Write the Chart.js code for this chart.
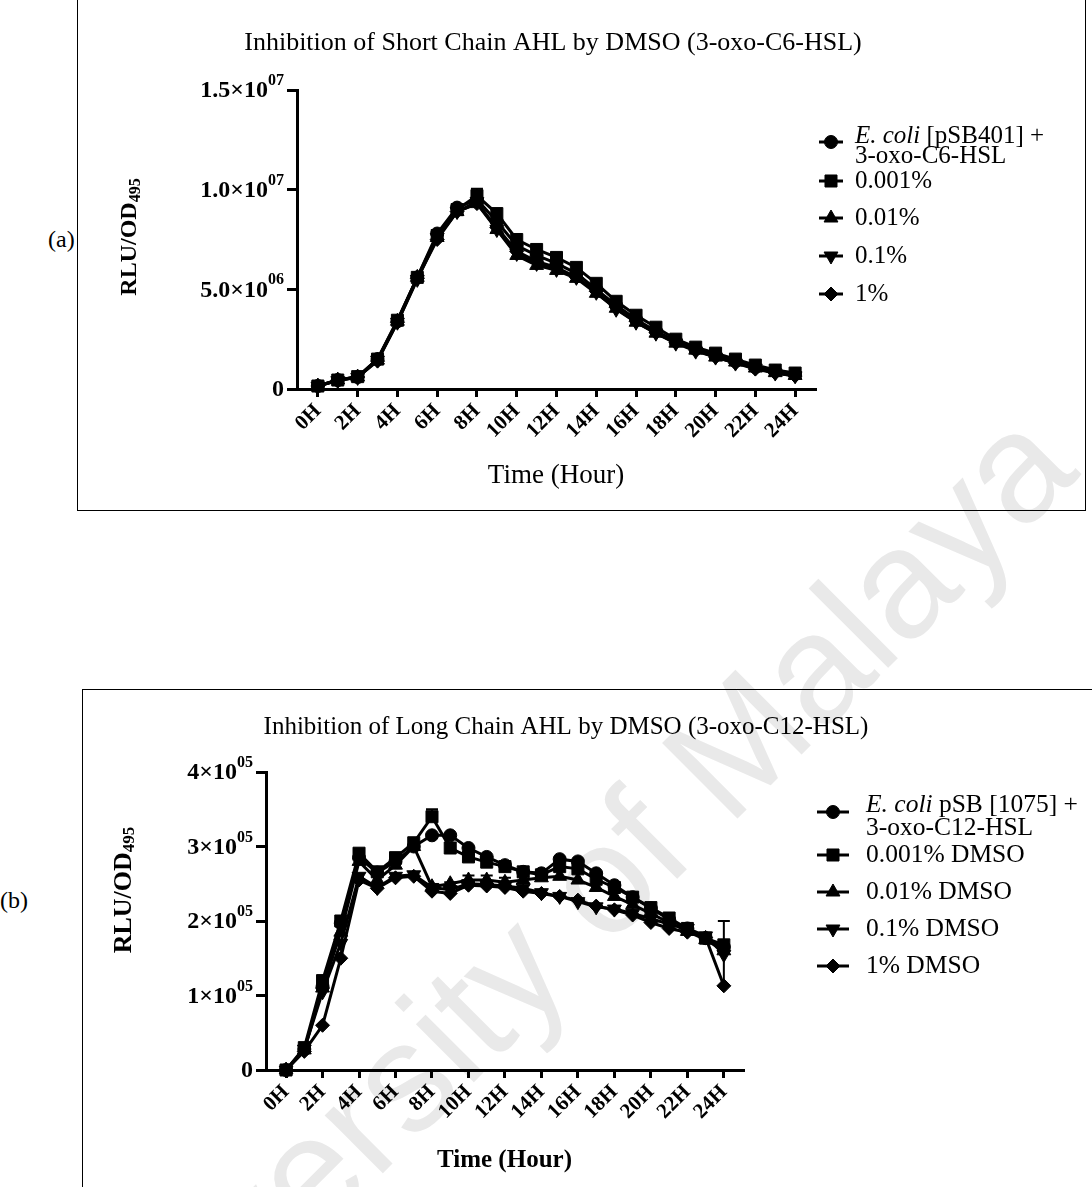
<!DOCTYPE html>
<html>
<head>
<meta charset="utf-8">
<script src="https://cdn.jsdelivr.net/npm/chart.js@4.4.1/dist/chart.umd.min.js"></script>
<style>
  body { margin: 0; background: #fff; width: 1092px; height: 1187px; overflow: hidden; position: relative; font-family: "Liberation Serif", "Times New Roman", serif; }
  #wm { position: absolute; left: 95px; top: 1330px; font: 155px "Liberation Sans", Arial, sans-serif; line-height: 155px; color: #e9e9e9; white-space: nowrap; transform-origin: 0 131px; transform: rotate(-45deg); z-index: 0; }
  .frame { position: absolute; border: 1.5px solid #000; z-index: 1; }
  #frameA { left: 77px; top: -10px; width: 1007px; height: 519px; }
  #frameB { left: 82px; top: 689px; width: 1100px; height: 600px; }
  .tag { position: absolute; font-size: 24px; z-index: 2; }
  canvas { position: absolute; left: 0; z-index: 2; }
</style>
</head>
<body>
<div id="wm">University of Malaya</div>
<div class="frame" id="frameA"></div>
<div class="frame" id="frameB"></div>
<div class="tag" style="left:48px;top:226px;">(a)</div>
<div class="tag" style="left:0px;top:887px;">(b)</div>
<canvas id="chartA" width="1092" height="510" style="top:0px"></canvas>
<canvas id="chartB" width="1092" height="497" style="top:690px"></canvas>

<script>
// sampling times (hours)
const hours = [0, 1, 2, 3, 4, 5, 6, 7, 8, 9, 10, 11, 12, 13, 14, 15, 16, 17, 18, 19, 20, 21, 22, 23, 24];
const xTickHours = [0, 2, 4, 6, 8, 10, 12, 14, 16, 18, 20, 22, 24];
const xTickLabels = ['0H', '2H', '4H', '6H', '8H', '10H', '12H', '14H', '16H', '18H', '20H', '22H', '24H'];

// (a) 3-oxo-C6-HSL, RLU/OD495 in units of 10^6
const ctrlA  = [0.15, 0.45, 0.6, 1.5, 3.4, 5.6, 7.8, 9.1, 9.5, 8.4, 7.2, 6.7, 6.3, 5.8, 5.0, 4.2, 3.5, 2.9, 2.4, 2.0, 1.7, 1.4, 1.1, 0.9, 0.75];
const d0001A = [0.15, 0.45, 0.62, 1.5, 3.45, 5.6, 7.7, 9.0, 9.7, 8.8, 7.5, 7.0, 6.6, 6.1, 5.3, 4.4, 3.7, 3.1, 2.5, 2.1, 1.8, 1.5, 1.2, 0.95, 0.8];
const d001A  = [0.15, 0.45, 0.6, 1.45, 3.4, 5.6, 7.6, 8.9, 9.3, 8.0, 6.7, 6.2, 5.95, 5.55, 4.8, 4.05, 3.35, 2.8, 2.3, 1.95, 1.6, 1.35, 1.05, 0.82, 0.68];
const d01A   = [0.15, 0.42, 0.58, 1.45, 3.35, 5.5, 7.6, 8.9, 9.4, 8.0, 6.8, 6.3, 6.0, 5.6, 4.85, 4.0, 3.35, 2.8, 2.3, 1.9, 1.6, 1.3, 1.05, 0.8, 0.66];
const d1A    = [0.15, 0.43, 0.6, 1.4, 3.35, 5.55, 7.5, 8.9, 9.3, 8.1, 6.9, 6.4, 6.1, 5.6, 4.9, 4.1, 3.4, 2.85, 2.35, 1.95, 1.6, 1.3, 1.0, 0.8, 0.65];
const errD0001A = [0, 0, 0, 0, 0, 0, 0, 0, 0.35, 0, 0, 0, 0, 0, 0, 0, 0, 0, 0, 0, 0, 0, 0, 0, 0];
const yTicksA = [0, 5, 10, 15];
const yTickLabelsA = ['0', '5.0×10^06', '1.0×10^07', '1.5×10^07'];
const legendA = ['E. coli [pSB401] +\n3-oxo-C6-HSL', '0.001%', '0.01%', '0.1%', '1%'];

// (b) 3-oxo-C12-HSL, RLU/OD495 in units of 10^5
const ctrlB  = [0, 0.28, 1.12, 1.97, 2.85, 2.65, 2.8, 3.0, 3.15, 3.15, 2.98, 2.86, 2.75, 2.66, 2.64, 2.83, 2.8, 2.64, 2.48, 2.32, 2.17, 2.02, 1.9, 1.77, 1.65];
const d0001B = [0, 0.3, 1.2, 2.0, 2.91, 2.66, 2.85, 3.05, 3.4, 2.98, 2.86, 2.79, 2.73, 2.66, 2.62, 2.73, 2.7, 2.56, 2.45, 2.32, 2.18, 2.04, 1.9, 1.77, 1.68];
const d001B  = [0, 0.27, 1.1, 1.85, 2.8, 2.55, 2.75, 3.0, 2.46, 2.5, 2.55, 2.55, 2.52, 2.55, 2.58, 2.6, 2.55, 2.45, 2.33, 2.22, 2.1, 1.98, 1.86, 1.75, 1.6];
const d01B   = [0, 0.28, 1.05, 1.7, 2.6, 2.45, 2.6, 2.62, 2.45, 2.42, 2.5, 2.49, 2.47, 2.44, 2.38, 2.33, 2.26, 2.19, 2.16, 2.1, 2.03, 1.96, 1.9, 1.8, 1.55];
const d1B    = [0, 0.25, 0.6, 1.5, 2.55, 2.44, 2.58, 2.6, 2.4, 2.37, 2.48, 2.47, 2.45, 2.4, 2.37, 2.33, 2.28, 2.2, 2.15, 2.08, 1.98, 1.9, 1.85, 1.78, 1.13];
const errD0001B = [0, 0, 0, 0, 0, 0, 0, 0, 0.1, 0, 0, 0, 0, 0, 0, 0, 0, 0, 0, 0, 0, 0, 0, 0, 0.32];
const errD001B  = [0, 0, 0, 0, 0, 0, 0, 0, 0, 0, 0.06, 0.06, 0.06, 0.05, 0, 0, 0, 0, 0, 0, 0, 0, 0, 0, 0];
const errD01B   = [0, 0, 0, 0, 0, 0, 0, 0, 0, 0.1, 0.05, 0, 0, 0, 0, 0, 0, 0, 0, 0, 0, 0, 0, 0, 0];
const errD1B    = [0, 0, 0, 0, 0, 0, 0, 0, 0, 0, 0, 0, 0, 0, 0, 0, 0, 0, 0, 0, 0, 0, 0, 0, 0.55];
const yTicksB = [0, 1, 2, 3, 4];
const yTickLabelsB = ['0', '1×10^05', '2×10^05', '3×10^05', '4×10^05'];
const legendB = ['E. coli pSB [1075] +\n3-oxo-C12-HSL', '0.001% DMSO', '0.01% DMSO', '0.1% DMSO', '1% DMSO'];

// one marker per treatment, same order in both panels
const MARKERS = [
  { style: 'circle',   radius: 6.5, rotation: 0 },
  { style: 'rect',     radius: 8.5, rotation: 0 },
  { style: 'triangle', radius: 8,   rotation: 0 },
  { style: 'triangle', radius: 8,   rotation: 180 },
  { style: 'rectRot',  radius: 7,   rotation: 0 }
];

const SERIF = '"Liberation Serif", "Times New Roman", serif';

function drawMarker(ctx, m, x, y) {
  ctx.fillStyle = '#000';
  ctx.strokeStyle = '#000';
  ctx.lineWidth = 1;
  Chart.helpers.drawPoint(ctx, { pointStyle: m.style, radius: m.radius, rotation: m.rotation, borderWidth: 1 }, x, y);
}

// titles, tick labels with exponents, legend and error bars
const decor = {
  id: 'decor',
  afterDatasetsDraw(chart, args, o) {
    const ctx = chart.ctx;
    const xs = chart.scales.x, ys = chart.scales.y;
    ctx.save();
    ctx.strokeStyle = '#000';
    ctx.lineWidth = 2;
    chart.data.datasets.forEach(ds => {
      if (!ds.errors) return;
      ds.data.forEach((p, i) => {
        const e = ds.errors[i];
        if (!e) return;
        const px = xs.getPixelForValue(p.x);
        const y0 = ys.getPixelForValue(p.y);
        const y1 = ys.getPixelForValue(p.y + e);
        ctx.beginPath();
        ctx.moveTo(px, y0); ctx.lineTo(px, y1);
        ctx.moveTo(px - 6, y1); ctx.lineTo(px + 6, y1);
        ctx.stroke();
      });
    });
    ctx.restore();
  },
  afterDraw(chart, args, o) {
    const ctx = chart.ctx;
    const ys = chart.scales.y;
    ctx.save();
    ctx.fillStyle = '#000';

    // chart title
    ctx.font = `${o.titleSize}px ${SERIF}`;
    ctx.textAlign = 'center';
    ctx.textBaseline = 'middle';
    ctx.fillText(o.title, o.titleX, o.titleY);

    // y tick labels: mantissa ×10 with superscript exponent
    ctx.textAlign = 'left';
    ys.ticks.forEach((t, i) => {
      const py = ys.getPixelForValue(t.value);
      const [base, sup] = o.yLabels[i].split('^');
      ctx.font = `bold ${o.yTickSize}px ${SERIF}`;
      const wb = ctx.measureText(base).width;
      let ws = 0;
      if (sup) {
        ctx.font = `bold ${o.supSize}px ${SERIF}`;
        ws = ctx.measureText(sup).width;
      }
      const x0 = chart.chartArea.left - o.yLabelGap - wb - ws;
      ctx.font = `bold ${o.yTickSize}px ${SERIF}`;
      ctx.fillText(base, x0, py + 1);
      if (sup) {
        ctx.font = `bold ${o.supSize}px ${SERIF}`;
        ctx.fillText(sup, x0 + wb, py - o.supRise);
      }
    });

    // y axis title with subscript
    ctx.save();
    ctx.translate(o.yTitleX, o.yTitleY);
    ctx.rotate(-Math.PI / 2);
    ctx.font = `bold ${o.yTitleSize}px ${SERIF}`;
    const wMain = ctx.measureText('RLU/OD').width;
    ctx.font = `bold ${o.subSize}px ${SERIF}`;
    const wSub = ctx.measureText('495').width;
    const sx = -(wMain + wSub) / 2;
    ctx.font = `bold ${o.yTitleSize}px ${SERIF}`;
    ctx.fillText('RLU/OD', sx, 0);
    ctx.font = `bold ${o.subSize}px ${SERIF}`;
    ctx.fillText('495', sx + wMain, o.subDrop);
    ctx.restore();

    // legend, one row per dataset
    const lg = o.legend;
    o.legendLabels.forEach((label, i) => {
      const lines = label.split('\n');
      const y = lg.rows[i];
      const my = y + (lines.length > 1 ? lg.multiShift : 0);
      ctx.strokeStyle = '#000';
      ctx.lineWidth = 3;
      ctx.beginPath();
      ctx.moveTo(lg.markX - lg.half, my);
      ctx.lineTo(lg.markX + lg.half, my);
      ctx.stroke();
      drawMarker(ctx, MARKERS[i], lg.markX, my);
      ctx.fillStyle = '#000';
      ctx.textBaseline = 'middle';
      ctx.textAlign = 'left';
      lines.forEach((line, k) => {
        const ly = y + k * lg.lineGap;
        let tx = lg.textX;
        if (line.startsWith('E. coli')) {
          ctx.font = `italic ${lg.size}px ${SERIF}`;
          ctx.fillText('E. coli', tx, ly);
          tx += ctx.measureText('E. coli').width;
          line = line.slice('E. coli'.length);
        }
        ctx.font = `${lg.size}px ${SERIF}`;
        ctx.fillText(line, tx, ly);
      });
    });
    ctx.restore();
  }
};

function makeChart(id, cfg) {
  const datasets = cfg.series.map((vals, i) => ({
    label: cfg.legendLabels[i],
    data: hours.map((h, k) => ({ x: h, y: vals[k] })),
    errors: cfg.errors[i],
    borderColor: '#000',
    borderWidth: 3,
    backgroundColor: '#000',
    pointStyle: MARKERS[i].style,
    pointRadius: MARKERS[i].radius,
    pointRotation: MARKERS[i].rotation,
    pointBackgroundColor: '#000',
    pointBorderColor: '#000',
    pointBorderWidth: 1,
    tension: 0,
    clip: false
  }));
  return new Chart(document.getElementById(id), {
    type: 'line',
    data: { datasets },
    options: {
      responsive: false,
      animation: false,
      events: [],
      layout: { padding: { top: cfg.top, right: cfg.padRight, left: 0, bottom: 0 } },
      plugins: {
        legend: { display: false },
        tooltip: { enabled: false },
        decor: cfg.decor
      },
      scales: {
        x: {
          type: 'linear',
          min: cfg.xMin,
          max: cfg.xMax,
          afterBuildTicks: s => { s.ticks = xTickHours.map(v => ({ value: v })); },
          afterFit: s => { s.height = cfg.xHeight; },
          grid: { display: true, drawOnChartArea: false, color: '#000', lineWidth: 3, tickLength: 8 },
          border: { color: '#000', width: 3 },
          ticks: {
            color: '#000',
            autoSkip: false,
            minRotation: 45,
            maxRotation: 45,
            padding: 2,
            font: { family: SERIF, size: cfg.xTickSize, weight: 'bold' },
            callback: (v, i) => xTickLabels[i]
          },
          title: {
            display: true,
            text: 'Time (Hour)',
            color: '#000',
            font: { family: SERIF, size: cfg.xTitleSize, weight: cfg.xTitleWeight },
            padding: { top: 0, bottom: cfg.xTitlePad }
          }
        },
        y: {
          min: cfg.yTicks[0],
          max: cfg.yTicks[cfg.yTicks.length - 1],
          afterBuildTicks: s => { s.ticks = cfg.yTicks.map(v => ({ value: v })); },
          afterFit: s => { s.width = cfg.yWidth; },
          grid: { display: true, drawOnChartArea: false, color: '#000', lineWidth: 3, tickLength: 10 },
          border: { color: '#000', width: 3 },
          ticks: { display: false }
        }
      }
    },
    plugins: [decor]
  });
}

makeChart('chartA', {
  series: [ctrlA, d0001A, d001A, d01A, d1A],
  errors: [null, errD0001A, null, null, null],
  legendLabels: legendA,
  yTicks: yTicksA,
  xMin: -1.05, xMax: 25,
  top: 90, padRight: 277, xHeight: 121, yWidth: 297,
  xTickSize: 21, xTitleSize: 27, xTitleWeight: 'normal', xTitlePad: 18,
  decor: {
    title: 'Inhibition of Short Chain AHL by DMSO (3-oxo-C6-HSL)',
    titleX: 553, titleY: 43, titleSize: 26,
    yLabels: yTickLabelsA, yTickSize: 24, supSize: 16, supRise: 9, yLabelGap: 13,
    yTitleX: 130, yTitleY: 237, yTitleSize: 24, subSize: 16, subDrop: 6,
    legendLabels: legendA,
    legend: { rows: [136, 181, 218, 256, 294], markX: 831, half: 12, textX: 855, size: 25, lineGap: 20, multiShift: 6 }
  }
});

makeChart('chartB', {
  series: [ctrlB, d0001B, d001B, d01B, d1B],
  errors: [null, errD0001B, errD001B, errD01B, errD1B],
  legendLabels: legendB,
  yTicks: yTicksB,
  xMin: -1.1, xMax: 25.05,
  top: 82, padRight: 349, xHeight: 117, yWidth: 266,
  xTickSize: 21, xTitleSize: 25, xTitleWeight: 'bold', xTitlePad: 11,
  decor: {
    title: 'Inhibition of Long Chain AHL by DMSO (3-oxo-C12-HSL)',
    titleX: 566, titleY: 37, titleSize: 25,
    yLabels: yTickLabelsB, yTickSize: 24, supSize: 16, supRise: 9, yLabelGap: 13,
    yTitleX: 124, yTitleY: 200, yTitleSize: 26, subSize: 17, subDrop: 6,
    legendLabels: legendB,
    legend: { rows: [115, 165, 202, 239, 276], markX: 833, half: 16, textX: 866, size: 25.5, lineGap: 23, multiShift: 7 }
  }
});
</script>
</body>
</html>
